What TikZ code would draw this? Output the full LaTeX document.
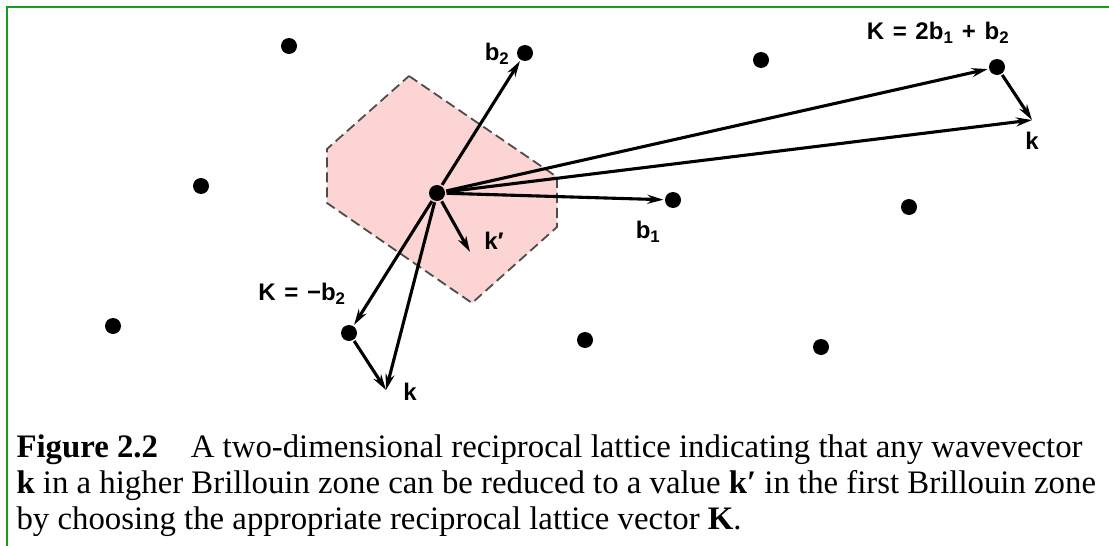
\documentclass[tikz,border=0pt]{standalone}
\usepackage{fontspec}
\setsansfont{Liberation Sans}
\newfontfamily\capfont{Liberation Serif}
\usetikzlibrary{arrows.meta}
\definecolor{zonepink}{RGB}{252,212,212}
\definecolor{framegreen}{RGB}{22,158,22}
\newcommand\lsp{\hspace{0.36em}}

\begin{document}
\begin{tikzpicture}[x=1pt,y=-1pt,line width=3.1pt,>={Stealth[length=16pt,width=9pt]},
  latpt/.style={circle,fill,inner sep=0pt,minimum size=16pt},
  vlabel/.style={font=\sffamily\bfseries\fontsize{24}{26}\selectfont,inner sep=0pt},
  capt/.style={font=\capfont\fontsize{32.8}{36}\selectfont,inner sep=0pt,anchor=base west}]
  \useasboundingbox (0,0) rectangle (1109,546);
  \draw[framegreen,line width=2.2pt] (7,560) -- (7,7) -- (1120,7);

  % first Brillouin zone
  \coordinate (z1) at (409,76);
  \coordinate (z2) at (557,177);
  \coordinate (z3) at (557,227);
  \coordinate (z4) at (472,303);
  \coordinate (z5) at (327,203);
  \coordinate (z6) at (327,149);
  \filldraw[fill=zonepink,draw=black!70,line width=1.8pt,dash pattern=on 10pt off 5pt]
    (z1) -- (z2) -- (z3) -- (z4) -- (z5) -- (z6) -- cycle;

  % lattice points O + i b1 + j b2
  \foreach \i in {-1,...,2}
    \foreach \j in {-1,0,1}
      \node[latpt] (L\i\j) at ({437+236*\i+88*\j},{193+7*\i-140*\j}) {};

  \coordinate (kp) at (470,252);
  \coordinate (kA) at (1032,120);
  \coordinate (kB) at (386,390);

  \draw[->] (L00) -- (L01);
  \draw[->] (L00) -- (L10);
  \draw[->] (L00) -- (L21);
  \draw[->] (L00) -- (L0-1);
  \draw[->] (L00) -- (kp);
  \draw[->] (L00) -- (kA);
  \draw[->] (L00) -- (kB);
  \draw[->] (L21) -- (kA);
  \draw[->] (L0-1) -- (kB);

  \node[vlabel] (lb2) at (497,54) {b\textsubscript{2}};
  \node[vlabel] (lb1) at (648,232) {b\textsubscript{1}};
  \node[vlabel] (lkp) at (494,241) {k′};
  \node[vlabel] (lKA) at (938,33) {K\lsp=\lsp2b\textsubscript{1}\lsp+\lsp b\textsubscript{2}};
  \node[vlabel] (lkA) at (1032,141) {k};
  \node[vlabel] (lKB) at (302,294) {K\lsp=\lsp−b\textsubscript{2}};
  \node[vlabel] (lkB) at (410,392) {k};

  % caption
  \node[capt] (cap1) at (15,457) {\textbf{Figure 2.2}\quad A two-dimensional reciprocal lattice indicating that any wavevector};
  \node[capt] (cap2) at (15,493) {\textbf{k} in a higher Brillouin zone can be reduced to a value \textbf{k′} in the first Brillouin zone};
  \node[capt] (cap3) at (15,529) {by choosing the appropriate reciprocal lattice vector \textbf{K}.};
\end{tikzpicture}
\end{document}
